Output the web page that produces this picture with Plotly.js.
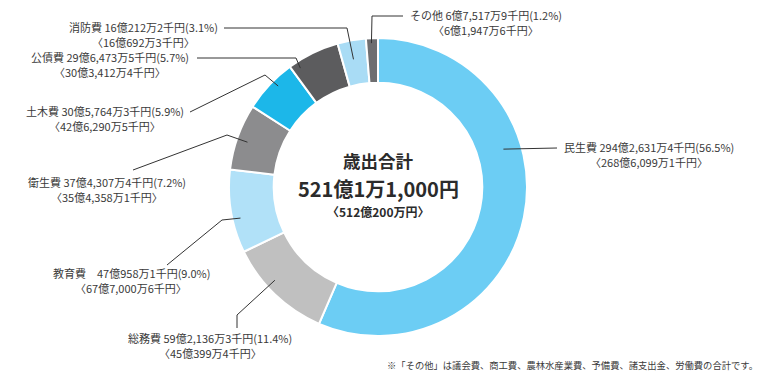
<!DOCTYPE html>
<html><head><meta charset="utf-8">
<script src="https://cdn.plot.ly/plotly-3.0.1.min.js"></script>
<style>html,body{margin:0;padding:0;background:#fff}#chart{width:762px;height:378px}</style>
</head><body><div id="chart"></div>
<script>
// ---- data (千円) ----
const categories = ['民生費','総務費','教育費','衛生費','土木費','公債費','消防費','その他'];
const values = [29426314, 5921363, 4709581, 3743074, 3057643, 2964735, 1602122, 675179];
const amountLabels = ['294億2,631万4千円','59億2,136万3千円','47億958万1千円','37億4,307万4千円','30億5,764万3千円','29億6,473万5千円','16億212万2千円','6億7,517万9千円'];
const percentLabels = ['56.5','11.4','9.0','7.2','5.9','5.7','3.1','1.2'];
const prevLabels = ['268億6,099万1千円','45億399万4千円','67億7,000万6千円','35億4,358万1千円','42億6,290万5千円','30億3,412万4千円','16億692万3千円','6億1,947万6千円'];
const totalTitle = '歳出合計';
const totalLabel = '521億1万1,000円';
const prevTotalLabel = '〈512億200万円〉';
const footnote = '※「その他」は議会費、商工費、農林水産業費、予備費、諸支出金、労働費の合計です。';

// ---- styles / layout ----
const colors = ['#6ccdf4','#c0c0c0','#b1e1f8','#8c8c8e','#1cb7e9','#5c5c5e','#a9dcf5','#6e6e70'];
const W = 762, H = 378;
const CX = 378, CY = 187, R = 149;
const px = x => x / W, py = y => 1 - y / H;

// leader line specs: t = position within slice, rr = radius (px), pts = elbow points, label centre/line y
const leaders = [
  {t:0.36, rr:131, pts:[[557,148]], cx:649, ly:147},
  {t:0.60, rr:139, pts:[[237,315],[237,328]], cx:210, ly:338},
  {t:0.40, rr:141, pts:[[222,220],[167,265]], cx:131, ly:273},
  {t:0.47, rr:138, pts:[[227,135],[133,170]], cx:107, ly:182},
  {t:0.60, rr:142, pts:[[265,75],[190,112]], cx:105, ly:111},
  {t:0.15, rr:142, pts:[[296,58],[197,58]], cx:110, ly:57},
  {t:0.44, rr:130, pts:[[347,28],[224,28]], cx:143, ly:27},
  {t:0.44, rr:144, pts:[[372,16],[403,16]], cx:486, ly:15}
];
const lineGap = 15.4;

const total = values.reduce((a,b)=>a+b,0);
const shapes = [], annotations = [];
let cum = 0;
const txtColor = '#3a3a3a';
const fontFam = '"Noto Sans CJK JP", "Noto Sans", sans-serif';
values.forEach((v,i) => {
  const start = cum / total * 360, end = (cum + v) / total * 360;
  cum += v;
  const L = leaders[i];
  const ang = (start + L.t * (end - start)) * Math.PI / 180;
  const ax = CX + L.rr * Math.sin(ang), ay = CY - L.rr * Math.cos(ang);
  let d = `M ${px(ax)},${py(ay)}`;
  L.pts.forEach(p => { d += ` L ${px(p[0])},${py(p[1])}`; });
  shapes.push({type:'path', xref:'paper', yref:'paper', path:d, line:{color:'#333333', width:1}});
  const sep = categories[i] === '教育費' ? '　' : ' ';
  annotations.push({
    xref:'paper', yref:'paper', x:px(L.cx), y:py(L.ly), xanchor:'center', yanchor:'middle',
    showarrow:false, borderpad:0, text:`${categories[i]}${sep}${amountLabels[i]}(${percentLabels[i]}%)`,
    font:{family:fontFam, size:11, color:txtColor}
  });
  annotations.push({
    xref:'paper', yref:'paper', x:px(L.cx), y:py(L.ly + lineGap), xanchor:'center', yanchor:'middle',
    showarrow:false, borderpad:0, text:`〈${prevLabels[i]}〉`,
    font:{family:fontFam, size:11, color:txtColor}
  });
});

annotations.push({xref:'paper', yref:'paper', x:px(CX), y:py(160), showarrow:false, yanchor:'middle',
  text:`<b>${totalTitle}</b>`, font:{family:fontFam, size:17.5, color:'#2b2b2b'}});
annotations.push({xref:'paper', yref:'paper', x:px(CX), y:py(188), showarrow:false, yanchor:'middle',
  text:`<b>${totalLabel}</b>`, font:{family:fontFam, size:20, color:'#2b2b2b'}});
annotations.push({xref:'paper', yref:'paper', x:px(CX), y:py(211), showarrow:false, yanchor:'middle',
  text:`<b>${prevTotalLabel}</b>`, font:{family:fontFam, size:12, color:'#2b2b2b'}});
annotations.push({xref:'paper', yref:'paper', x:px(760), y:py(365), showarrow:false, xanchor:'right', yanchor:'middle',
  text:footnote, font:{family:fontFam, size:9.3, color:txtColor}});

const trace = {
  type:'pie', labels:categories, values:values, sort:false, direction:'clockwise', rotation:0,
  hole:0.70, textinfo:'none', hoverinfo:'none',
  marker:{colors:colors, line:{color:'#ffffff', width:2}},
  domain:{x:[px(CX-R), px(CX+R)], y:[py(CY+R), py(CY-R)]}
};

Plotly.newPlot('chart', [trace], {
  width:W, height:H, margin:{l:0,r:0,t:0,b:0}, showlegend:false,
  paper_bgcolor:'#ffffff', plot_bgcolor:'#ffffff',
  shapes:shapes, annotations:annotations
}, {staticPlot:true});
</script></body></html>
